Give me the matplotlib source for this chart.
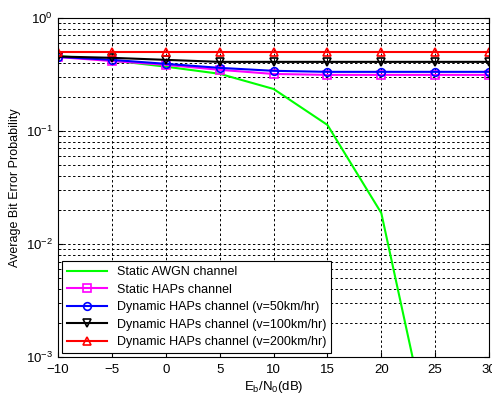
import numpy as np
import matplotlib
matplotlib.use("Agg")
from matplotlib import pyplot as plt

plt.rcParams['font.family'] = ['Liberation Sans', 'DejaVu Sans']

# Eb/N0 in dB
snr = [-10, -5, 0, 5, 10, 15, 20, 25, 30]

awgn = [0.46, 0.42, 0.37, 0.32, 0.235, 0.113, 0.0188, 0.00012, 0.0000001]
static_haps = [0.45, 0.415, 0.384, 0.347, 0.319, 0.313, 0.313, 0.313, 0.313]
dyn_50 = [0.452, 0.425, 0.392, 0.361, 0.340, 0.333, 0.333, 0.333, 0.333]
dyn_100 = [0.455, 0.443, 0.425, 0.408, 0.408, 0.408, 0.408, 0.408, 0.408]
dyn_200 = [0.5, 0.5, 0.5, 0.5, 0.5, 0.5, 0.5, 0.5, 0.5]

fig = plt.figure(figsize=(4.92, 3.96), dpi=100)
ax = fig.add_axes([0.118, 0.098, 0.876, 0.857])

ax.semilogy(snr, awgn, color="#00ff00", lw=1.5, label="Static AWGN channel")
ax.semilogy(snr, static_haps, color="#ff00ff", lw=1.5, marker="s", ms=5.5, mfc="none",
            mew=1.2, label="Static HAPs channel")
ax.semilogy(snr, dyn_50, color="#0000ff", lw=1.5, marker="o", ms=5.5, mfc="none",
            mew=1.2, label="Dynamic HAPs channel (v=50km/hr)")
ax.semilogy(snr, dyn_100, color="black", lw=1.5, marker="v", ms=5.5, mfc="none",
            mew=1.2, label="Dynamic HAPs channel (v=100km/hr)")
ax.semilogy(snr, dyn_200, color="#ff0000", lw=1.5, marker="^", ms=5.5, mfc="none",
            mew=1.2, label="Dynamic HAPs channel (v=200km/hr)")

ax.set_xlim(-10, 30)
ax.set_ylim(1e-3, 1)
ax.set_xticks(range(-10, 31, 5))
ax.grid(True, which="both", color="black", linestyle=(0, (2.5, 2.5)), linewidth=0.7)
ax.tick_params(which="both", direction="in", labelsize=9.5, top=True, right=True)
ax.tick_params(axis="x", pad=5)

ax.set_xlabel(r"$\mathregular{E_b/N_0}$(dB)", fontsize=9.5, labelpad=2)
ax.set_ylabel("Average Bit Error Probability", fontsize=9)

leg = ax.legend(loc="lower left", fontsize=9, fancybox=False, edgecolor="black",
                framealpha=1, borderaxespad=0.3, handlelength=3.2, labelspacing=0.45,
                borderpad=0.4)
leg.get_frame().set_linewidth(0.8)

plt.savefig("out.png", dpi=100)
